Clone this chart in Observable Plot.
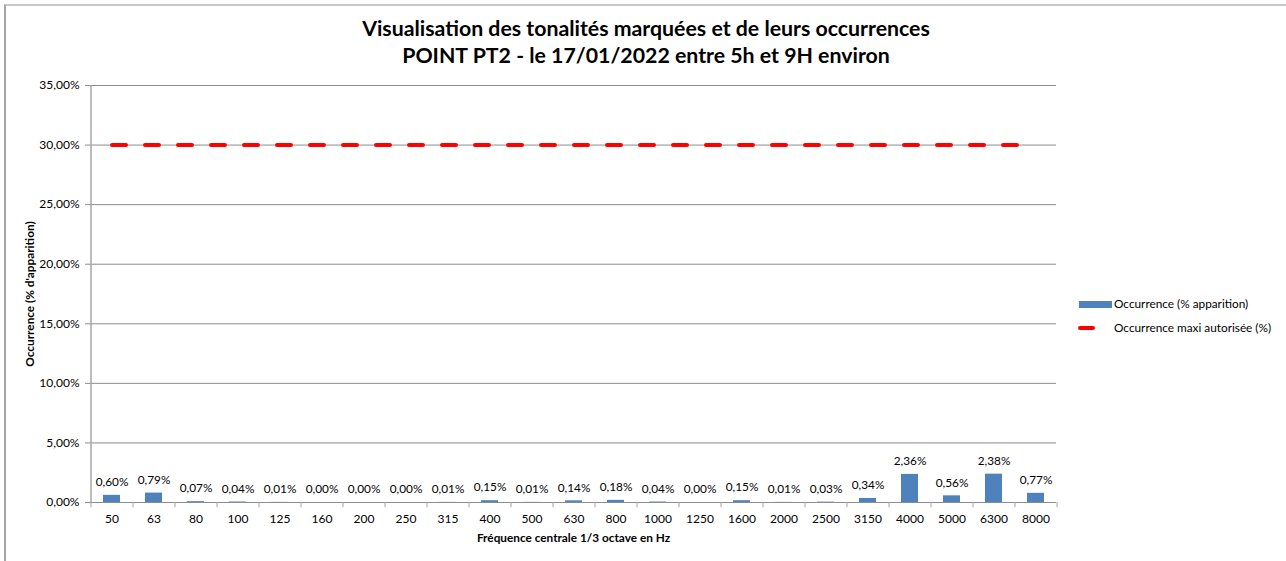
<!DOCTYPE html>
<html>
<head>
<meta charset="utf-8">
<script src="https://cdn.jsdelivr.net/npm/d3@7"></script>
<script src="https://cdn.jsdelivr.net/npm/@observablehq/plot@0.6"></script>
<style>
  html, body { margin: 0; padding: 0; background: #fff; }
  #wrap { position: relative; width: 1286px; height: 561px; overflow: hidden; font-family: Lato, "Open Sans", sans-serif; color: #000; }
  #frame { position: absolute; left: 4px; top: 4px; right: -2px; bottom: -2px; border-left: 2px solid #a6a6a6; border-top: 2px solid #c8c8c8; }
  #title { position: absolute; left: 0; width: 1292px; top: 15px; text-align: center; font-weight: bold; font-size: 21.3px; line-height: 27px; }
  #plot { position: absolute; left: 0; top: 0; }
  .leg { position: absolute; font-size: 11.8px; white-space: nowrap; }
</style>
</head>
<body>
<div id="wrap">
  <div id="frame"></div>
  <div id="plot"></div>
  <div id="title">Visualisation des tonalités marquées et de leurs occurrences<br>POINT PT2 - le 17/01/2022 entre 5h et 9H environ</div>
  <div class="leg" style="left:1079px; top:301px; width:33px; height:7px; background:#4f81bd;"></div>
  <div class="leg" style="left:1114px; top:296px;">Occurrence (% apparition)</div>
  <div class="leg" style="left:1078px; top:326px; width:17px; height:4px; border-radius:2px; background:#ff0000;"></div>
  <div class="leg" style="left:1114px; top:320px;">Occurrence maxi autorisée (%)</div>
</div>
<script>
const categories = ["50","63","80","100","125","160","200","250","315","400","500","630","800","1000","1250","1600","2000","2500","3150","4000","5000","6300","8000"];
const occurrence = [0.60,0.79,0.07,0.04,0.01,0.00,0.00,0.00,0.01,0.15,0.01,0.14,0.18,0.04,0.00,0.15,0.01,0.03,0.34,2.36,0.56,2.38,0.77];
const maxAllowed = categories.map(() => 30);
const yTicks = [0,5,10,15,20,25,30,35];
const yTitle = "Occurrence (% d'apparition)";
const xTitle = "Fréquence centrale 1/3 octave en Hz";

const data = categories.map((c, i) => ({cat: c, v: occurrence[i], max: maxAllowed[i]}));
const fmt = v => v.toFixed(2).replace(".", ",") + "%";

const W = 1286, H = 561, mL = 90, mR = 230, mT = 85, mB = 59;
const step = (W - mL - mR) / categories.length;

const chart = Plot.plot({
  width: W, height: H,
  marginLeft: mL, marginRight: mR, marginTop: mT, marginBottom: mB,
  style: {fontFamily: "Lato, 'Open Sans', sans-serif", fontSize: "12px", color: "#000", background: "transparent"},
  x: {domain: categories, paddingInner: 0.6, paddingOuter: 0.3, align: 0.5, label: null},
  y: {domain: [0, 35], label: null},
  marks: [
    Plot.gridY(yTicks, {stroke: "#8c8c8c", strokeOpacity: 1, strokeWidth: 1}),
    Plot.axisY({ticks: yTicks, tickFormat: fmt, tickSize: 5, tickPadding: 6, stroke: "#8c8c8c", fill: "#000", fontSize: 12, label: null}),
    Plot.ruleX([0], {x: () => categories[0], dx: -step/2, y1: 0, y2: 35, stroke: "#a6a6a6", strokeWidth: 1.5}),
    Plot.ruleX(categories, {x: d => d, dx: -step/2, y1: 0, y2: -0.45, stroke: "#a6a6a6"}),
    Plot.ruleX([categories[categories.length-1]], {x: d => d, dx: step/2, y1: 0, y2: -0.45, stroke: "#a6a6a6"}),
    Plot.axisX({tickSize: 0, tickPadding: 12, fontSize: 12, fill: "#000", label: null}),
    Plot.barY(data, {x: "cat", y: "v", fill: "#4f81bd"}),
    Plot.lineY(data, {x: "cat", y: "max", stroke: "#ff0000", strokeWidth: 4, strokeDasharray: "14,19", strokeLinecap: "round"}),
    Plot.text(data, {x: "cat", y: "v", text: d => fmt(d.v), dy: -13, fill: "#000", fontSize: 11.8}),
    Plot.text([yTitle], {frameAnchor: "left", textAnchor: "middle", dx: -60, rotate: -90, text: d => d, fontWeight: "bold", fontSize: 11.8}),
    Plot.text([xTitle], {frameAnchor: "bottom", textAnchor: "middle", dy: 39, text: d => d, fontWeight: "bold", fontSize: 11.8})
  ]
});
document.getElementById("plot").appendChild(chart);
</script>
</body>
</html>
